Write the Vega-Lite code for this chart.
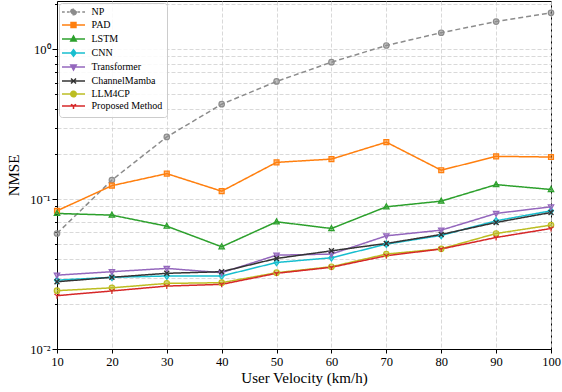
{
  "$schema": "https://vega.github.io/schema/vega-lite/v6.json",
  "width": 494,
  "height": 348,
  "autosize": {"type": "none"},
  "padding": {"left": 57, "top": 1, "right": 11, "bottom": 43},
  "background": "white",
  "config": {
    "font": "Liberation Serif",
    "view": {"stroke": "black", "strokeWidth": 1},
    "axis": {
      "labelFont": "Liberation Serif",
      "titleFont": "Liberation Serif",
      "labelColor": "black",
      "titleColor": "black",
      "domainColor": "black",
      "tickColor": "black",
      "gridColor": "#cfcfcf",
      "gridDash": [4, 2],
      "gridWidth": 0.8,
      "titleFontWeight": "normal"
    },
    "legend": {"labelFont": "Liberation Serif", "symbolStrokeWidth": 1.5}
  },
  "data": {"values": [
    {"v": 10, "m": "NP", "y": 0.059}, {"v": 20, "m": "NP", "y": 0.134}, {"v": 30, "m": "NP", "y": 0.26}, {"v": 40, "m": "NP", "y": 0.43}, {"v": 50, "m": "NP", "y": 0.61}, {"v": 60, "m": "NP", "y": 0.82}, {"v": 70, "m": "NP", "y": 1.06}, {"v": 80, "m": "NP", "y": 1.29}, {"v": 90, "m": "NP", "y": 1.53}, {"v": 100, "m": "NP", "y": 1.75},
    {"v": 10, "m": "PAD", "y": 0.0836}, {"v": 20, "m": "PAD", "y": 0.123}, {"v": 30, "m": "PAD", "y": 0.148}, {"v": 40, "m": "PAD", "y": 0.113}, {"v": 50, "m": "PAD", "y": 0.176}, {"v": 60, "m": "PAD", "y": 0.185}, {"v": 70, "m": "PAD", "y": 0.24}, {"v": 80, "m": "PAD", "y": 0.156}, {"v": 90, "m": "PAD", "y": 0.193}, {"v": 100, "m": "PAD", "y": 0.191},
    {"v": 10, "m": "LSTM", "y": 0.0803}, {"v": 20, "m": "LSTM", "y": 0.0782}, {"v": 30, "m": "LSTM", "y": 0.066}, {"v": 40, "m": "LSTM", "y": 0.0481}, {"v": 50, "m": "LSTM", "y": 0.0706}, {"v": 60, "m": "LSTM", "y": 0.0637}, {"v": 70, "m": "LSTM", "y": 0.0889}, {"v": 80, "m": "LSTM", "y": 0.097}, {"v": 90, "m": "LSTM", "y": 0.125}, {"v": 100, "m": "LSTM", "y": 0.116},
    {"v": 10, "m": "CNN", "y": 0.0288}, {"v": 20, "m": "CNN", "y": 0.0301}, {"v": 30, "m": "CNN", "y": 0.0307}, {"v": 40, "m": "CNN", "y": 0.0307}, {"v": 50, "m": "CNN", "y": 0.0378}, {"v": 60, "m": "CNN", "y": 0.0406}, {"v": 70, "m": "CNN", "y": 0.0501}, {"v": 80, "m": "CNN", "y": 0.0573}, {"v": 90, "m": "CNN", "y": 0.0717}, {"v": 100, "m": "CNN", "y": 0.0836},
    {"v": 10, "m": "Transformer", "y": 0.0311}, {"v": 20, "m": "Transformer", "y": 0.0328}, {"v": 30, "m": "Transformer", "y": 0.0345}, {"v": 40, "m": "Transformer", "y": 0.0323}, {"v": 50, "m": "Transformer", "y": 0.0423}, {"v": 60, "m": "Transformer", "y": 0.043}, {"v": 70, "m": "Transformer", "y": 0.0569}, {"v": 80, "m": "Transformer", "y": 0.0621}, {"v": 90, "m": "Transformer", "y": 0.0803}, {"v": 100, "m": "Transformer", "y": 0.0889},
    {"v": 10, "m": "ChannelMamba", "y": 0.0281}, {"v": 20, "m": "ChannelMamba", "y": 0.0301}, {"v": 30, "m": "ChannelMamba", "y": 0.032}, {"v": 40, "m": "ChannelMamba", "y": 0.0328}, {"v": 50, "m": "ChannelMamba", "y": 0.0402}, {"v": 60, "m": "ChannelMamba", "y": 0.0452}, {"v": 70, "m": "ChannelMamba", "y": 0.0506}, {"v": 80, "m": "ChannelMamba", "y": 0.0581}, {"v": 90, "m": "ChannelMamba", "y": 0.0699}, {"v": 100, "m": "ChannelMamba", "y": 0.0815},
    {"v": 10, "m": "LLM4CP", "y": 0.0245}, {"v": 20, "m": "LLM4CP", "y": 0.0256}, {"v": 30, "m": "LLM4CP", "y": 0.0274}, {"v": 40, "m": "LLM4CP", "y": 0.0277}, {"v": 50, "m": "LLM4CP", "y": 0.0323}, {"v": 60, "m": "LLM4CP", "y": 0.0354}, {"v": 70, "m": "LLM4CP", "y": 0.043}, {"v": 80, "m": "LLM4CP", "y": 0.0466}, {"v": 90, "m": "LLM4CP", "y": 0.059}, {"v": 100, "m": "LLM4CP", "y": 0.0671},
    {"v": 10, "m": "Proposed Method", "y": 0.0227}, {"v": 20, "m": "Proposed Method", "y": 0.0244}, {"v": 30, "m": "Proposed Method", "y": 0.0263}, {"v": 40, "m": "Proposed Method", "y": 0.027}, {"v": 50, "m": "Proposed Method", "y": 0.032}, {"v": 60, "m": "Proposed Method", "y": 0.0351}, {"v": 70, "m": "Proposed Method", "y": 0.0419}, {"v": 80, "m": "Proposed Method", "y": 0.0465}, {"v": 90, "m": "Proposed Method", "y": 0.0555}, {"v": 100, "m": "Proposed Method", "y": 0.0637}
  ]},
  "encoding": {
    "x": {
      "field": "v", "type": "quantitative",
      "scale": {"domain": [10, 100], "nice": false, "zero": false},
      "axis": {
        "title": "User Velocity (km/h)",
        "values": [10, 20, 30, 40, 50, 60, 70, 80, 90, 100],
        "labelFontSize": 12.5, "titleFontSize": 15, "tickSize": 4, "labelPadding": 2, "titlePadding": 3,
        "grid": true, "labelFlush": false
      }
    },
    "y": {
      "field": "y", "type": "quantitative",
      "scale": {"type": "log", "domain": [0.01, 2.1], "nice": false},
      "axis": {
        "title": "NMSE",
        "values": [0.01, 0.02, 0.03, 0.04, 0.05, 0.06, 0.07, 0.08, 0.09, 0.1, 0.2, 0.3, 0.4, 0.5, 0.6, 0.7, 0.8, 0.9, 1, 2],
        "labelExpr": "abs(datum.value-1)<1e-9 ? '10⁰' : abs(datum.value-0.1)<1e-9 ? '10⁻¹' : abs(datum.value-0.01)<1e-9 ? '10⁻²' : ''",
        "tickSize": {"condition": {"test": "abs(datum.value-1)<1e-9 || abs(datum.value-0.1)<1e-9 || abs(datum.value-0.01)<1e-9", "value": 5}, "value": 2.5},
        "labelFontSize": 12.5, "titleFontSize": 15, "labelPadding": 2, "titlePadding": 8,
        "grid": true
      }
    },
    "color": {
      "field": "m", "type": "nominal",
      "scale": {
        "domain": ["NP", "PAD", "LSTM", "CNN", "Transformer", "ChannelMamba", "LLM4CP", "Proposed Method"],
        "range": ["#8c8c8c", "#ff7f0e", "#2ca02c", "#17becf", "#9467bd", "#333333", "#bcbd22", "#d62728"]
      },
      "legend": {
        "title": null, "orient": "none", "legendX": 2, "legendY": 2,
        "labelFontSize": 10, "labelColor": "black", "labelOffset": 13, "symbolOffset": 5.5,
        "symbolSize": 30, "rowPadding": 1, "padding": 4, "strokeColor": "#cccccc",
        "fillColor": "rgba(255,255,255,0.85)", "cornerRadius": 3
      }
    }
  },
  "layer": [
    {
      "transform": [{"filter": "false"}],
      "mark": {"type": "point", "filled": true, "size": 30, "strokeWidth": 1.5, "fillOpacity": 0.55, "opacity": 1},
      "encoding": {
        "stroke": {
          "field": "m", "type": "nominal",
          "scale": {
            "domain": ["NP", "PAD", "LSTM", "CNN", "Transformer", "ChannelMamba", "LLM4CP", "Proposed Method"],
            "range": ["#8c8c8c", "#ff7f0e", "#2ca02c", "#17becf", "#9467bd", "#333333", "#bcbd22", "#d62728"]
          },
          "legend": {
            "title": null, "orient": "none", "legendX": 2, "legendY": 2,
            "labelFontSize": 10, "labelColor": "black", "labelOffset": 13, "symbolOffset": 5.5,
            "symbolSize": 30, "rowPadding": 1, "padding": 4, "strokeColor": "#cccccc",
            "fillColor": "rgba(255,255,255,0.85)", "cornerRadius": 3
          }
        },
        "shape": {
          "field": "m", "type": "nominal",
          "scale": {
            "domain": ["NP", "PAD", "LSTM", "CNN", "Transformer", "ChannelMamba", "LLM4CP", "Proposed Method"],
            "range": [
              "M-4.2,0H-3.2M-2.4,0H-1.4M1.4,0H2.4M3.2,0H4.2M1,0A1,1 0 1,1 -1,0A1,1 0 1,1 1,0Z",
              "M-4.2,0H4.2M-0.9,-0.9H0.9V0.9H-0.9Z",
              "M-4.2,0H4.2M0,-1.1L1,0.75H-1Z",
              "M-4.2,0H4.2M0,-1.2L0.9,0L0,1.2L-0.9,0Z",
              "M-4.2,0H4.2M0,1.1L1,-0.75H-1Z",
              "M-4.2,0H4.2M-0.9,-0.9L0.9,0.9M-0.9,0.9L0.9,-0.9",
              "M-4.2,0H4.2M1,0A1,1 0 1,1 -1,0A1,1 0 1,1 1,0Z",
              "M-4.2,0H4.2M0,0L0,1.1M0,0L-0.95,-0.6M0,0L0.95,-0.6"
            ]
          },
          "legend": {
            "title": null, "orient": "none", "legendX": 2, "legendY": 2,
            "labelFontSize": 10, "labelColor": "black", "labelOffset": 13, "symbolOffset": 5.5,
            "symbolSize": 30, "rowPadding": 1, "padding": 4, "strokeColor": "#cccccc",
            "fillColor": "rgba(255,255,255,0.85)", "cornerRadius": 3
          }
        }
      }
    },
    {
      "mark": {"type": "line", "strokeWidth": 1.5},
      "encoding": {
        "strokeDash": {
          "field": "m", "type": "nominal",
          "scale": {"domain": ["NP", "PAD", "LSTM", "CNN", "Transformer", "ChannelMamba", "LLM4CP", "Proposed Method"], "range": [[5, 3], [1, 0], [1, 0], [1, 0], [1, 0], [1, 0], [1, 0], [1, 0]]},
          "legend": null
        }
      }
    },
    {"transform": [{"filter": "datum.m === 'NP'"}], "mark": {"type": "point", "filled": true, "size": 30, "strokeWidth": 1.2, "fillOpacity": 0.55, "opacity": 1, "stroke": "#8c8c8c", "shape": "M1,0A1,1 0 1,1 -1,0A1,1 0 1,1 1,0Z"}},
    {"transform": [{"filter": "datum.m === 'PAD'"}], "mark": {"type": "point", "filled": true, "size": 30, "strokeWidth": 1.2, "fillOpacity": 0.55, "opacity": 1, "stroke": "#ff7f0e", "shape": "M-0.9,-0.9H0.9V0.9H-0.9Z"}},
    {"transform": [{"filter": "datum.m === 'LSTM'"}], "mark": {"type": "point", "filled": true, "size": 30, "strokeWidth": 1.2, "fillOpacity": 0.55, "opacity": 1, "stroke": "#2ca02c", "shape": "M0,-1.1L1,0.75H-1Z"}},
    {"transform": [{"filter": "datum.m === 'CNN'"}], "mark": {"type": "point", "filled": true, "size": 30, "strokeWidth": 1.2, "fillOpacity": 0.55, "opacity": 1, "stroke": "#17becf", "shape": "M0,-1.2L0.9,0L0,1.2L-0.9,0Z"}},
    {"transform": [{"filter": "datum.m === 'Transformer'"}], "mark": {"type": "point", "filled": true, "size": 30, "strokeWidth": 1.2, "fillOpacity": 0.55, "opacity": 1, "stroke": "#9467bd", "shape": "M0,1.1L1,-0.75H-1Z"}},
    {"transform": [{"filter": "datum.m === 'ChannelMamba'"}], "mark": {"type": "point", "filled": true, "size": 30, "strokeWidth": 1.4, "fillOpacity": 0.55, "opacity": 1, "stroke": "#333333", "shape": "M-0.9,-0.9L0.9,0.9M-0.9,0.9L0.9,-0.9"}},
    {"transform": [{"filter": "datum.m === 'LLM4CP'"}], "mark": {"type": "point", "filled": true, "size": 30, "strokeWidth": 1.2, "fillOpacity": 0.55, "opacity": 1, "stroke": "#bcbd22", "shape": "M1,0A1,1 0 1,1 -1,0A1,1 0 1,1 1,0Z"}},
    {"transform": [{"filter": "datum.m === 'Proposed Method'"}], "mark": {"type": "point", "filled": true, "size": 30, "strokeWidth": 1.2, "fillOpacity": 0.55, "opacity": 1, "stroke": "#d62728", "shape": "M0,0L0,1.1M0,0L-0.95,-0.6M0,0L0.95,-0.6"}}
  ]
}
